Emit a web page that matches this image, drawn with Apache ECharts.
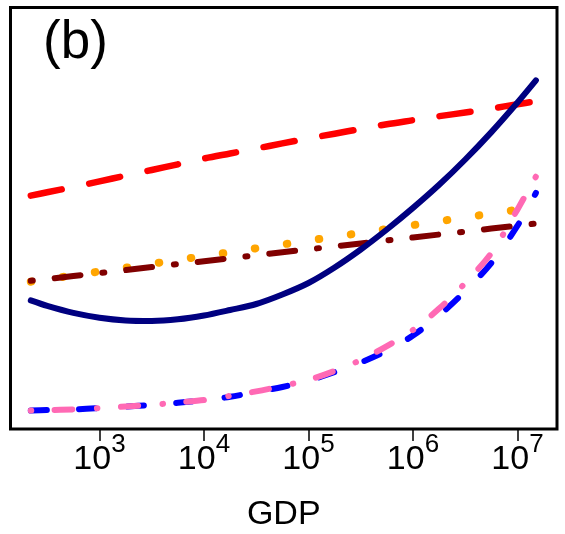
<!DOCTYPE html>
<html>
<head>
<meta charset="utf-8">
<script src="https://cdn.jsdelivr.net/npm/echarts@6/dist/echarts.min.js"></script>
<style>
html,body{margin:0;padding:0;background:#fff;}
#chart{width:565px;height:534px;}
</style>
</head>
<body>
<div id="chart"></div>
<script>
// GDP sample points (x, quarter-decade steps) (arbitrary y units)
const gdp = [220, 316, 562, 1000, 1778, 3162, 5623, 10000, 17783, 31623, 56234, 100000,
  177828, 316228, 562341, 1000000, 1778279, 3162278, 5623413, 10000000, 15000000];
const redDashed = [233.4, 236.7, 242.1, 247.6, 253.4, 259, 264.7, 270.5, 275.5, 280.5, 285.6,
  290.6, 295.3, 300.1, 304.8, 308.8, 312.8, 316.5, 320.5, 324.7, 327.7];
const navySolid = [128.6, 123.1, 116.1, 111.3, 108.6, 108.1, 109.7, 113.5, 119, 125, 134.5,
  146, 161.5, 179.5, 199.5, 221.1, 244.2, 269.5, 296.9, 326.5, 348.6];
const orangeDotted = [147.3, 149.7, 153.6, 157.5, 161.3, 165.2, 169.1, 172.9, 176.8, 180.7, 184.5,
  188.4, 192.3, 196.1, 200, 203.9, 207.7, 211.6, 215.5, 219.3, 222.1];
const darkRedDashDot = [148.2, 150, 153, 156, 158.9, 161.9, 164.9, 167.8, 170.8, 173.7, 176.7,
  179.7, 182.6, 185.6, 188.6, 191.5, 194.5, 197.4, 200.4, 203.4, 205.4];
const blueDashed = [18.4, 18.9, 19.6, 20.9, 22.4, 24.1, 26.2, 28.9, 32.2, 37, 42,
  48.5, 57, 66.5, 78.3, 93.5, 113.6, 138, 166, 203.3, 236];
const pinkDashDot = [18.4, 18.8, 19.6, 20.9, 22.5, 24.1, 26.6, 29, 33.2, 37.6, 43,
  49, 58.1, 69, 82.9, 99, 120.4, 146, 176, 219.6, 252.4];
const tickValues = [1e3, 1e4, 1e5, 1e6, 1e7];
const titleText = '(b)';
const xName = 'GDP';

const pairs = ys => gdp.map((x, i) => [x, ys[i]]);
const FONT = 'Liberation Sans, Arial, sans-serif';

function mkLine(data, color, width, dash, smooth, z) {
  return {
    type: 'line',
    data: pairs(data),
    smooth: smooth,
    symbol: 'none',
    silent: true,
    z: z,
    lineStyle: { color: color, width: width, type: dash, cap: 'round', join: 'round' }
  };
}

const chart = echarts.init(document.getElementById('chart'), null, { renderer: 'canvas' });
chart.setOption({
  animation: false,
  backgroundColor: '#fff',
  title: {
    text: titleText, left: 43, top: 17, padding: 0,
    textStyle: { fontSize: 53, fontWeight: 'normal', fontFamily: FONT, color: '#000' }
  },
  grid: {
    left: 10.5, right: 8, top: 7.5, bottom: 105,
    containLabel: false, outerBoundsMode: 'none',
    show: true, borderColor: '#000', borderWidth: 3, backgroundColor: 'transparent'
  },
  xAxis: {
    type: 'log', logBase: 10, min: 140.7, max: 2.388e7,
    name: xName, nameLocation: 'middle', nameGap: 69,
    nameTextStyle: { fontSize: 34, fontFamily: FONT, color: '#000' },
    axisLine: { show: false },
    splitLine: { show: false },
    minorTick: { show: false },
    axisTick: { show: true, customValues: tickValues, length: 12, lineStyle: { color: '#000', width: 1.5 } },
    axisLabel: {
      show: true, customValues: tickValues, margin: 14,
      formatter: function (v) {
        const e = v > 50 ? Math.round(Math.log10(v)) : Math.round(v);
        return '{b|10}{s|' + e + '}';
      },
      rich: {
        b: { fontSize: 34, lineHeight: 34, fontFamily: FONT, color: '#000', verticalAlign: 'bottom' },
        s: { fontSize: 26, lineHeight: 26, fontFamily: FONT, color: '#000', verticalAlign: 'bottom', padding: [0, 0, 19, 0] }
      }
    }
  },
  yAxis: {
    type: 'value', min: 0, max: 421.5, show: false,
    splitLine: { show: false }
  },
  series: [
    mkLine(redDashed, '#FF0000', 6.5, [31.5, 28], 0.3, 2),
    mkLine(orangeDotted, '#FFA500', 8, [0.5, 31.85], false, 3),
    mkLine(darkRedDashDot, '#800000', 6, [2, 22, 26, 22], false, 4),
    mkLine(navySolid, '#000080', 6, 'solid', 0.3, 5),
    mkLine(blueDashed, '#0000FF', 6, [16, 32.5], 0.3, 6),
    mkLine(pinkDashDot, '#FF69B4', 6, [0.5, 23.5, 17.5, 24.5], 0.3, 7)
  ]
});
</script>
</body>
</html>
